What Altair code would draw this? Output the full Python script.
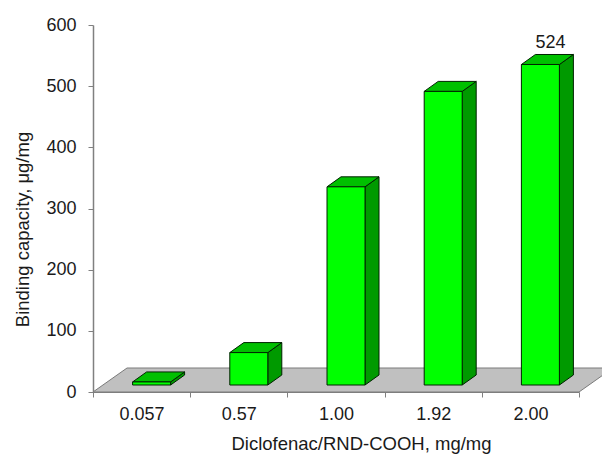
import json
import altair as alt
import pandas as pd

# ---- data ----
categories = ["0.057", "0.57", "1.00", "1.92", "2.00"]
values = [5, 53, 324, 480, 524]
value_labels = ["", "", "", "", "524"]
y_ticks = [0, 100, 200, 300, 400, 500, 600]

# ---- layout / style constants (pixels) ----
W, H = 486, 367
Y_MAX = 600
N = len(categories)
UX = W / N          # pixels per x unit (one category)
UY = H / Y_MAX      # pixels per y unit

BAR_W = 38          # front face width
GAP_X, GAP_Y = 10, 7        # floor depth in front of the bars
DEPTH_X, DEPTH_Y = 14, 10   # bar depth
FLOOR_X, FLOOR_Y = 34, 24   # whole floor depth

FONT = "Liberation Sans"
TXT = "#1a1a1a"
AXIS_GRAY = "#808080"

gx, gy = GAP_X / UX, GAP_Y / UY
dx, dy = DEPTH_X / UX, DEPTH_Y / UY
bw = BAR_W / UX

front_rows, side_rows, top_rows, label_rows = [], [], [], []
for i, (cat, v, lab) in enumerate(zip(categories, values, value_labels)):
    xl = i + 0.5 - bw / 2 + gx
    xr = i + 0.5 + bw / 2 + gx
    yb = gy
    yt = v + gy
    front_rows.append(dict(cat=cat, xl=xl, xr=xr, yb=yb, yt=yt))
    side_rows += [dict(cat=cat, x=xr, y=yt, y2=yb),
                  dict(cat=cat, x=xr + dx, y=yt + dy, y2=yb + dy)]
    top_rows += [dict(cat=cat, y=yt, x=xl, x2=xr),
                 dict(cat=cat, y=yt + dy, x=xl + dx, x2=xr + dx)]
    label_rows.append(dict(cat=cat, lab=lab, x=(xl + xr) / 2 + dx / 2, y=yt + dy))

floor_rows = [dict(y=0, x=0, x2=N),
              dict(y=FLOOR_Y / UY, x=FLOOR_X / UX, x2=N + FLOOR_X / UX)]

front_df = pd.DataFrame(front_rows)
side_df = pd.DataFrame(side_rows)
top_df = pd.DataFrame(top_rows)
label_df = pd.DataFrame(label_rows)
floor_df = pd.DataFrame(floor_rows)

x_scale = alt.Scale(domain=[0, N], nice=False, zero=False)
y_scale = alt.Scale(domain=[0, Y_MAX], nice=False, zero=False)

x_axis = alt.Axis(
    values=list(range(N + 1)),
    labelExpr=f"{json.dumps(categories)}[datum.value] || ''",
    labelOffset=UX / 2, labelPadding=17, labelBaseline="middle",
    labelFontSize=18, labelFont=FONT, labelColor=TXT,
    labelOverlap=False, labelFlush=False, labelBound=False,
    tickSize=5, tickColor=AXIS_GRAY, domainColor=AXIS_GRAY, domainWidth=1.2,
    grid=False,
    title="Diclofenac/RND-COOH, mg/mg", titleFont=FONT, titleFontSize=18.5,
    titleFontWeight="normal", titleColor=TXT,
    titleX=268, titleY=51, titleAlign="center", titleBaseline="middle",
)
y_axis = alt.Axis(
    values=y_ticks, labelPadding=12, labelFontSize=18, labelFont=FONT,
    labelColor=TXT, tickSize=5, tickColor=AXIS_GRAY, domainColor=AXIS_GRAY,
    domainWidth=1.5, grid=False,
    title="Binding capacity, μg/mg", titleFont=FONT, titleFontSize=18.5,
    titleFontWeight="normal", titleColor=TXT, titleAngle=270,
    titleX=-71, titleY=204, titleAlign="center", titleBaseline="middle",
)

floor = alt.Chart(floor_df).mark_area(
    orient="horizontal", color="#c0c0c0", stroke="#7a7a7a", strokeWidth=1
).encode(
    y=alt.Y("y:Q", scale=y_scale, axis=y_axis),
    x=alt.X("x:Q", scale=x_scale, axis=x_axis),
    x2="x2:Q",
)

side = alt.Chart(side_df).mark_area(
    orient="vertical", color="#009a00", stroke="#002200", strokeWidth=1
).encode(
    x=alt.X("x:Q", scale=x_scale, axis=x_axis),
    y=alt.Y("y:Q", scale=y_scale, axis=y_axis),
    y2="y2:Q",
    detail="cat:N",
)

top = alt.Chart(top_df).mark_area(
    orient="horizontal", color="#00c000", stroke="#002200", strokeWidth=1
).encode(
    y=alt.Y("y:Q", scale=y_scale, axis=y_axis),
    x=alt.X("x:Q", scale=x_scale, axis=x_axis),
    x2="x2:Q",
    detail="cat:N",
)

front = alt.Chart(front_df).mark_rect(
    color="#00ff00", stroke="#002200", strokeWidth=1
).encode(
    x=alt.X("xl:Q", scale=x_scale, axis=x_axis),
    x2="xr:Q",
    y=alt.Y("yb:Q", scale=y_scale, axis=y_axis),
    y2="yt:Q",
)

labels = alt.Chart(label_df).transform_filter("datum.lab != ''").mark_text(
    font=FONT, fontSize=18, color=TXT, baseline="alphabetic", dy=-6, dx=3
).encode(
    x=alt.X("x:Q", scale=x_scale, axis=x_axis),
    y=alt.Y("y:Q", scale=y_scale, axis=y_axis),
    text="lab:N",
)

chart = alt.layer(floor, side, top, front, labels).properties(
    width=W, height=H,
    autosize=alt.AutoSizeParams(type="none"),
    padding={"left": 93, "top": 25, "right": 23, "bottom": 63},
    background="white",
).configure_view(stroke=None)

chart.save("out.html", embed_options={"renderer": "svg", "actions": False})
